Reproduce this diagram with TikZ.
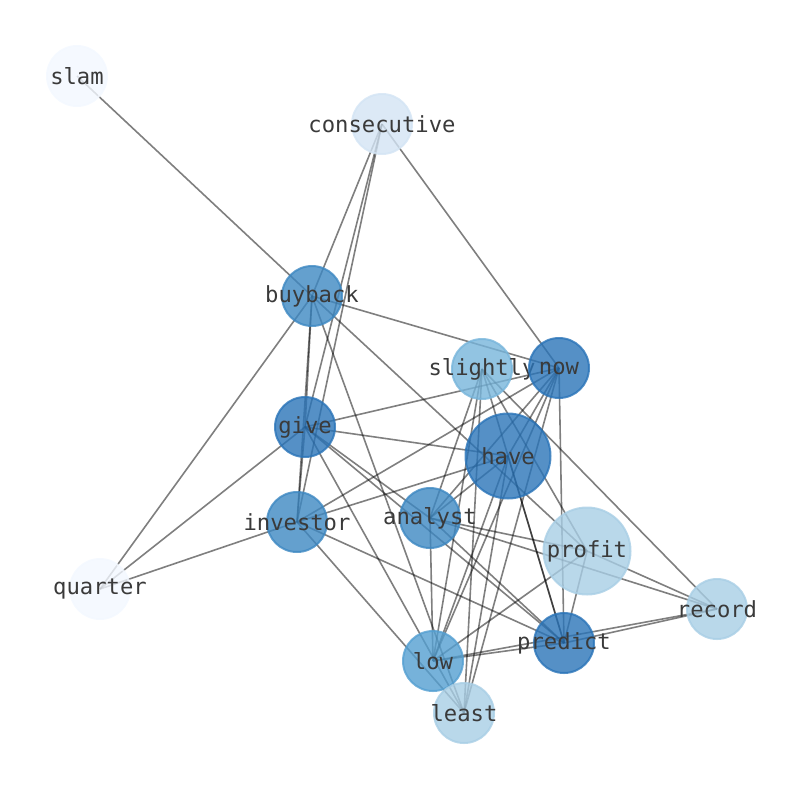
\documentclass[tikz,border=0pt]{standalone}
\usepackage{fontspec}
\newfontfamily\wordfont{DejaVu Sans Mono}
\definecolor{deg1}{HTML}{F3F8FF}
\definecolor{deg2}{HTML}{D3E4F4}
\definecolor{deg3}{HTML}{A8CEE5}
\definecolor{deg4}{HTML}{77B5DB}
\definecolor{deg5}{HTML}{549FD1}
\definecolor{deg6}{HTML}{3D88C2}
\definecolor{deg7}{HTML}{2A74B8}
\definecolor{wordgray}{HTML}{3A3A3A}
\newcommand{\wordtext}[1]{\makebox[0pt]{#1}}
\pgfdeclarelayer{edges}
\pgfsetlayers{edges,main}
\begin{document}
\begin{tikzpicture}[x=1pt,y=-1pt,
  word/.style={circle,inner sep=0pt,minimum size=60pt,line width=2pt,draw=#1,fill=#1,draw opacity=0.8,fill opacity=0.8,text opacity=1,text=wordgray,font=\wordfont\fontsize{22.2}{26}\selectfont},
  link/.style={draw=black,opacity=0.5,line width=1.6pt}]
\useasboundingbox (0,0) rectangle (794,790);
\node[word=deg1] (slam) at (77,76) {\wordtext{slam}};
\node[word=deg2] (consecutive) at (382,124) {\wordtext{consecutive}};
\node[word=deg6] (buyback) at (312,296) {\wordtext{buyback}};
\node[word=deg4] (slightly) at (482,369) {\wordtext{slightly}};
\node[word=deg7] (now) at (559,368) {\wordtext{now}};
\node[word=deg7] (give) at (305,427) {\wordtext{give}};
\node[word=deg7,minimum size=85pt] (have) at (508,456) {\wordtext{have}};
\node[word=deg6] (investor) at (297,522) {\wordtext{investor}};
\node[word=deg6] (analyst) at (430,518) {\wordtext{analyst}};
\node[word=deg3,minimum size=87pt] (profit) at (587,551) {\wordtext{profit}};
\node[word=deg1] (quarter) at (100,589) {\wordtext{quarter}};
\node[word=deg3] (record) at (717,609) {\wordtext{record}};
\node[word=deg7] (predict) at (564,643) {\wordtext{predict}};
\node[word=deg5] (low) at (433,661) {\wordtext{low}};
\node[word=deg3] (least) at (464,713) {\wordtext{least}};
\begin{pgfonlayer}{edges}
\foreach \a/\b in {slam/buyback, consecutive/buyback, consecutive/give, consecutive/investor, consecutive/now,
  buyback/now, buyback/give, buyback/investor, buyback/quarter, buyback/profit, buyback/least,
  give/now, give/have, give/quarter, give/investor, give/least, give/predict, give/analyst,
  investor/quarter, investor/now, investor/have, investor/predict, investor/least,
  analyst/slightly, analyst/now, analyst/have, analyst/profit, analyst/record, analyst/predict, analyst/low,
  slightly/record, slightly/profit, slightly/predict, slightly/low, slightly/least,
  now/have, now/low, now/least, now/predict,
  have/predict, have/low, have/least,
  profit/predict, profit/low, profit/record,
  predict/record, low/predict, low/record}
  \draw[link] (\a.center) -- (\b.center);
\end{pgfonlayer}
\end{tikzpicture}
\end{document}
